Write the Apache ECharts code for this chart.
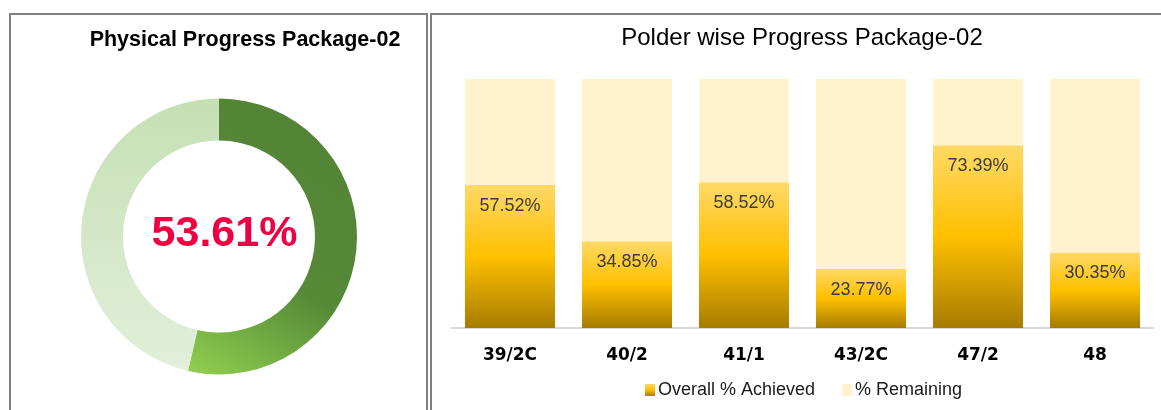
<!DOCTYPE html>
<html>
<head>
<meta charset="utf-8">
<script src="https://cdn.jsdelivr.net/npm/echarts@6/dist/echarts.min.js"></script>
<style>
  html, body { margin: 0; padding: 0; background: #fff; }
  #chart { width: 1161px; height: 410px; }
</style>
</head>
<body>
<div id="chart"></div>
<script>
// data
const polders = ["39/2C", "40/2", "41/1", "43/2C", "47/2", "48"];
const achieved = [57.52, 34.85, 58.52, 23.77, 73.39, 30.35];
const remaining = [42.48, 65.15, 41.48, 76.23, 26.61, 69.65];
const physicalDone = 53.61;
const physicalLeft = 46.39;

const font = "Liberation Sans, Arial, sans-serif";

const achievedColor = new echarts.graphic.LinearGradient(0, 0, 0, 1, [
    { offset: 0, color: "#ffd966" },
    { offset: 0.5, color: "#ffc000" },
    { offset: 1, color: "#a67c00" },
]);

const myChart = echarts.init(document.getElementById("chart"));

myChart.setOption({
    animation: false,
    title: [
        {
            text: "Physical Progress Package-02",
            left: 245,
            top: 29,
            padding: 0,
            textAlign: "center",
            textStyle: { fontFamily: font, fontSize: 21.5, fontWeight: "bold", color: "#000" },
        },
        {
            text: "Polder wise Progress Package-02",
            left: 802,
            top: 26,
            padding: 0,
            textAlign: "center",
            textStyle: { fontFamily: font, fontSize: 24, fontWeight: "normal", color: "#000" },
        },
    ],
    graphic: [
        {
            type: "rect",
            shape: { x: 10, y: 14, width: 417, height: 500 },
            style: { fill: "none", stroke: "#808080", lineWidth: 2 },
            silent: true,
        },
        {
            type: "rect",
            shape: { x: 431, y: 14, width: 800, height: 500 },
            style: { fill: "none", stroke: "#808080", lineWidth: 2 },
            silent: true,
        },
        {
            type: "text",
            x: 224.5,
            y: 234,
            z: 10,
            style: {
                text: physicalDone.toFixed(2) + "%",
                font: "bold 43px " + font,
                fill: "#ee0042",
                textAlign: "center",
                textVerticalAlign: "middle",
            },
        },
    ],
    legend: {
        left: 645,
        top: 381,
        padding: 0,
        itemWidth: 10,
        itemHeight: 12,
        itemGap: 27,
        icon: "rect",
        data: ["Overall % Achieved", "% Remaining"],
        textStyle: { fontFamily: font, fontSize: 18, color: "#1a1a1a", padding: [0, 0, 0, -2] },
    },
    grid: { left: 451.5, right: 7.5, top: 79, bottom: 82 },
    xAxis: {
        type: "category",
        data: polders,
        axisLine: { lineStyle: { color: "#d9d9d9", width: 2 } },
        axisTick: { show: false },
        axisLabel: {
            margin: 19,
            fontFamily: "DejaVu Sans, sans-serif",
            fontSize: 17,
            fontWeight: "bold",
            color: "#000",
        },
    },
    yAxis: {
        type: "value",
        min: 0,
        max: 100,
        show: false,
    },
    series: [
        {
            type: "pie",
            center: [219, 236.5],
            radius: [96, 138],
            startAngle: 90,
            clockwise: true,
            silent: true,
            label: { show: false },
            labelLine: { show: false },
            data: [
                {
                    value: physicalDone,
                    name: "Achieved",
                    itemStyle: {
                        color: new echarts.graphic.LinearGradient(1, 0, 0, 1, [
                            { offset: 0, color: "#538135" },
                            { offset: 0.6, color: "#568a37" },
                            { offset: 1, color: "#92d050" },
                        ]),
                    },
                },
                {
                    value: physicalLeft,
                    name: "Remaining",
                    itemStyle: {
                        color: new echarts.graphic.LinearGradient(0, 0, 0, 1, [
                            { offset: 0, color: "#c5e0b4" },
                            { offset: 1, color: "#e2efda" },
                        ]),
                    },
                },
            ],
        },
        {
            name: "Overall % Achieved",
            type: "bar",
            stack: "total",
            barCategoryGap: "23%",
            data: achieved,
            itemStyle: { color: achievedColor },
            label: {
                show: true,
                position: "insideTop",
                distance: 12,
                fontFamily: font,
                fontSize: 18,
                color: "#3a3a3a",
                formatter: (p) => p.value.toFixed(2) + "%",
            },
        },
        {
            name: "% Remaining",
            type: "bar",
            stack: "total",
            data: remaining,
            itemStyle: { color: "#fff2cc" },
        },
    ],
});
</script>
</body>
</html>
